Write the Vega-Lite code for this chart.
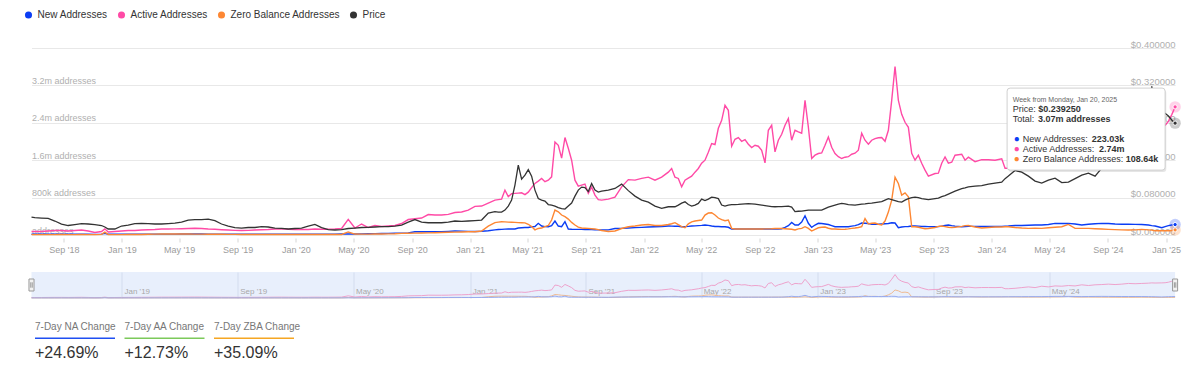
{
"$schema": "https://vega.github.io/schema/vega-lite/v6.json",
"padding": {"left": 23.5, "top": 10, "right": 0, "bottom": 0},
"background": "white",
"config": {"font": "Liberation Sans", "view": {"stroke": null}},
"datasets": {
"ts": [
{"d":"2018-06-25","p":0.0384,"a":75,"n":15,"z":8},
{"d":"2018-07-02","p":0.0373,"a":75,"n":15,"z":8},
{"d":"2018-07-16","p":0.0363,"a":75,"n":16,"z":9},
{"d":"2018-07-30","p":0.0356,"a":85,"n":16,"z":9},
{"d":"2018-08-13","p":0.0299,"a":96,"n":17,"z":9},
{"d":"2018-08-27","p":0.0235,"a":96,"n":17,"z":10},
{"d":"2018-09-10","p":0.0203,"a":85,"n":16,"z":9},
{"d":"2018-09-24","p":0.0224,"a":96,"n":17,"z":9},
{"d":"2018-10-08","p":0.0245,"a":107,"n":17,"z":10},
{"d":"2018-10-22","p":0.0235,"a":85,"n":16,"z":9},
{"d":"2018-11-05","p":0.0224,"a":53,"n":14,"z":8},
{"d":"2018-11-19","p":0.0203,"a":75,"n":18,"z":14},
{"d":"2018-11-26","p":0.0171,"a":132,"n":35,"z":60},
{"d":"2018-12-03","p":0.0128,"a":64,"n":16,"z":12},
{"d":"2018-12-17","p":0.0128,"a":75,"n":15,"z":9},
{"d":"2018-12-31","p":0.0192,"a":85,"n":16,"z":9},
{"d":"2019-01-14","p":0.0213,"a":96,"n":17,"z":10},
{"d":"2019-01-28","p":0.0245,"a":96,"n":17,"z":10},
{"d":"2019-02-11","p":0.0250,"a":107,"n":18,"z":12},
{"d":"2019-02-25","p":0.0245,"a":113,"n":18,"z":16},
{"d":"2019-03-11","p":0.0235,"a":117,"n":18,"z":18},
{"d":"2019-03-25","p":0.0235,"a":128,"n":19,"z":20},
{"d":"2019-04-08","p":0.0245,"a":128,"n":19,"z":22},
{"d":"2019-04-22","p":0.0256,"a":132,"n":19,"z":22},
{"d":"2019-05-06","p":0.0277,"a":134,"n":20,"z":21},
{"d":"2019-05-20","p":0.0320,"a":139,"n":20,"z":20},
{"d":"2019-06-03","p":0.0331,"a":143,"n":20,"z":19},
{"d":"2019-06-17","p":0.0331,"a":139,"n":20,"z":18},
{"d":"2019-07-01","p":0.0341,"a":128,"n":19,"z":17},
{"d":"2019-07-15","p":0.0309,"a":122,"n":19,"z":16},
{"d":"2019-07-29","p":0.0235,"a":113,"n":18,"z":15},
{"d":"2019-08-12","p":0.0192,"a":107,"n":18,"z":14},
{"d":"2019-08-26","p":0.0156,"a":100,"n":17,"z":13},
{"d":"2019-09-09","p":0.0149,"a":96,"n":17,"z":12},
{"d":"2019-09-23","p":0.0160,"a":100,"n":17,"z":12},
{"d":"2019-10-07","p":0.0160,"a":107,"n":17,"z":12},
{"d":"2019-10-21","p":0.0177,"a":113,"n":18,"z":12},
{"d":"2019-11-04","p":0.0171,"a":117,"n":18,"z":12},
{"d":"2019-11-18","p":0.0149,"a":128,"n":18,"z":12},
{"d":"2019-12-02","p":0.0143,"a":132,"n":18,"z":11},
{"d":"2019-12-16","p":0.0128,"a":122,"n":17,"z":11},
{"d":"2019-12-30","p":0.0139,"a":117,"n":17,"z":11},
{"d":"2020-01-13","p":0.0149,"a":117,"n":16,"z":10},
{"d":"2020-01-27","p":0.0192,"a":117,"n":17,"z":10},
{"d":"2020-02-10","p":0.0228,"a":128,"n":17,"z":10},
{"d":"2020-02-24","p":0.0160,"a":122,"n":17,"z":10},
{"d":"2020-03-09","p":0.0117,"a":122,"n":18,"z":10},
{"d":"2020-03-23","p":0.0107,"a":128,"n":19,"z":10},
{"d":"2020-04-06","p":0.0117,"a":139,"n":20,"z":12},
{"d":"2020-04-20","p":0.0139,"a":335,"n":24,"z":65},
{"d":"2020-05-04","p":0.0149,"a":149,"n":22,"z":20},
{"d":"2020-05-18","p":0.0160,"a":235,"n":25,"z":18},
{"d":"2020-06-01","p":0.0164,"a":160,"n":28,"z":18},
{"d":"2020-06-15","p":0.0171,"a":203,"n":30,"z":20},
{"d":"2020-06-29","p":0.0177,"a":181,"n":32,"z":22},
{"d":"2020-07-13","p":0.0181,"a":192,"n":34,"z":25},
{"d":"2020-07-27","p":0.0192,"a":203,"n":36,"z":28},
{"d":"2020-08-10","p":0.0213,"a":245,"n":38,"z":35},
{"d":"2020-08-24","p":0.0277,"a":331,"n":45,"z":38},
{"d":"2020-09-07","p":0.0331,"a":348,"n":70,"z":40},
{"d":"2020-09-21","p":0.0277,"a":363,"n":70,"z":42},
{"d":"2020-10-05","p":0.0262,"a":437,"n":70,"z":45},
{"d":"2020-10-19","p":0.0262,"a":427,"n":70,"z":48},
{"d":"2020-11-02","p":0.0262,"a":427,"n":72,"z":53},
{"d":"2020-11-16","p":0.0277,"a":442,"n":78,"z":58},
{"d":"2020-11-30","p":0.0299,"a":480,"n":85,"z":62},
{"d":"2020-12-14","p":0.0292,"a":491,"n":82,"z":65},
{"d":"2020-12-28","p":0.0299,"a":533,"n":78,"z":68},
{"d":"2021-01-11","p":0.0309,"a":612,"n":75,"z":70},
{"d":"2021-01-25","p":0.0320,"a":619,"n":80,"z":85},
{"d":"2021-02-08","p":0.0469,"a":683,"n":92,"z":190},
{"d":"2021-02-22","p":0.0501,"a":747,"n":110,"z":265},
{"d":"2021-03-01","p":0.0491,"a":757,"n":118,"z":275},
{"d":"2021-03-08","p":0.0491,"a":768,"n":121,"z":283},
{"d":"2021-03-15","p":0.0533,"a":960,"n":125,"z":280},
{"d":"2021-03-22","p":0.0619,"a":821,"n":128,"z":275},
{"d":"2021-03-29","p":0.0747,"a":885,"n":130,"z":272},
{"d":"2021-04-05","p":0.1067,"a":890,"n":128,"z":270},
{"d":"2021-04-12","p":0.1493,"a":896,"n":150,"z":265},
{"d":"2021-04-19","p":0.1195,"a":902,"n":155,"z":262},
{"d":"2021-04-26","p":0.1280,"a":864,"n":160,"z":260},
{"d":"2021-05-03","p":0.1397,"a":917,"n":160,"z":230},
{"d":"2021-05-10","p":0.1259,"a":1013,"n":175,"z":180},
{"d":"2021-05-17","p":0.0960,"a":1103,"n":180,"z":110},
{"d":"2021-05-24","p":0.0779,"a":1152,"n":250,"z":140},
{"d":"2021-05-31","p":0.0747,"a":1210,"n":192,"z":149},
{"d":"2021-06-07","p":0.0725,"a":1141,"n":180,"z":180},
{"d":"2021-06-14","p":0.0651,"a":1173,"n":177,"z":203},
{"d":"2021-06-21","p":0.0640,"a":1244,"n":200,"z":320},
{"d":"2021-06-28","p":0.0619,"a":1990,"n":299,"z":533},
{"d":"2021-07-05","p":0.0587,"a":1920,"n":192,"z":497},
{"d":"2021-07-12","p":0.0565,"a":1643,"n":177,"z":427},
{"d":"2021-07-19","p":0.0555,"a":2084,"n":284,"z":391},
{"d":"2021-07-26","p":0.0619,"a":1856,"n":128,"z":341},
{"d":"2021-08-02","p":0.0683,"a":1600,"n":122,"z":270},
{"d":"2021-08-09","p":0.0832,"a":1173,"n":120,"z":213},
{"d":"2021-08-16","p":0.0960,"a":1045,"n":120,"z":170},
{"d":"2021-08-23","p":0.1024,"a":1067,"n":120,"z":149},
{"d":"2021-08-30","p":0.1013,"a":1088,"n":118,"z":145},
{"d":"2021-09-06","p":0.0928,"a":890,"n":117,"z":142},
{"d":"2021-09-13","p":0.1099,"a":1024,"n":115,"z":135},
{"d":"2021-09-20","p":0.0960,"a":853,"n":112,"z":128},
{"d":"2021-09-27","p":0.0917,"a":757,"n":110,"z":115},
{"d":"2021-10-04","p":0.0939,"a":747,"n":107,"z":96},
{"d":"2021-10-18","p":0.0960,"a":768,"n":110,"z":75},
{"d":"2021-11-01","p":0.0996,"a":811,"n":139,"z":85},
{"d":"2021-11-15","p":0.1088,"a":1030,"n":142,"z":139},
{"d":"2021-11-29","p":0.0949,"a":1184,"n":149,"z":177},
{"d":"2021-12-13","p":0.0832,"a":1173,"n":158,"z":192},
{"d":"2021-12-27","p":0.0747,"a":1210,"n":164,"z":213},
{"d":"2022-01-10","p":0.0704,"a":1237,"n":170,"z":224},
{"d":"2022-01-24","p":0.0619,"a":1173,"n":177,"z":203},
{"d":"2022-02-07","p":0.0570,"a":1237,"n":182,"z":203},
{"d":"2022-02-21","p":0.0604,"a":1344,"n":192,"z":224},
{"d":"2022-02-28","p":0.0604,"a":1423,"n":190,"z":240},
{"d":"2022-03-07","p":0.0604,"a":1237,"n":188,"z":263},
{"d":"2022-03-14","p":0.0640,"a":1210,"n":186,"z":220},
{"d":"2022-03-21","p":0.0683,"a":1030,"n":177,"z":181},
{"d":"2022-03-28","p":0.0710,"a":1173,"n":180,"z":155},
{"d":"2022-04-04","p":0.0651,"a":1216,"n":185,"z":240},
{"d":"2022-04-11","p":0.0619,"a":1259,"n":192,"z":282},
{"d":"2022-04-18","p":0.0640,"a":1344,"n":195,"z":300},
{"d":"2022-04-25","p":0.0676,"a":1423,"n":200,"z":310},
{"d":"2022-05-02","p":0.0768,"a":1536,"n":205,"z":320},
{"d":"2022-05-09","p":0.0736,"a":1600,"n":213,"z":427},
{"d":"2022-05-16","p":0.0768,"a":1771,"n":205,"z":470},
{"d":"2022-05-23","p":0.0811,"a":1956,"n":192,"z":476},
{"d":"2022-05-30","p":0.0800,"a":1935,"n":181,"z":427},
{"d":"2022-06-06","p":0.0779,"a":2283,"n":181,"z":363},
{"d":"2022-06-13","p":0.0640,"a":2453,"n":177,"z":330},
{"d":"2022-06-20","p":0.0619,"a":2773,"n":177,"z":305},
{"d":"2022-06-27","p":0.0640,"a":2667,"n":165,"z":320},
{"d":"2022-07-04","p":0.0651,"a":1899,"n":128,"z":142},
{"d":"2022-07-11","p":0.0651,"a":2048,"n":128,"z":128},
{"d":"2022-07-18","p":0.0655,"a":2084,"n":128,"z":128},
{"d":"2022-07-25","p":0.0661,"a":2005,"n":128,"z":128},
{"d":"2022-08-01","p":0.0667,"a":2042,"n":128,"z":128},
{"d":"2022-08-08","p":0.0672,"a":1941,"n":128,"z":128},
{"d":"2022-08-15","p":0.0667,"a":1871,"n":128,"z":128},
{"d":"2022-08-22","p":0.0661,"a":1920,"n":128,"z":128},
{"d":"2022-08-29","p":0.0651,"a":1899,"n":128,"z":128},
{"d":"2022-09-05","p":0.0640,"a":1813,"n":128,"z":128},
{"d":"2022-09-12","p":0.0629,"a":1542,"n":128,"z":130},
{"d":"2022-09-19","p":0.0619,"a":2240,"n":128,"z":130},
{"d":"2022-09-26","p":0.0608,"a":2347,"n":128,"z":133},
{"d":"2022-10-03","p":0.0604,"a":1777,"n":128,"z":139},
{"d":"2022-10-10","p":0.0606,"a":2027,"n":128,"z":142},
{"d":"2022-10-17","p":0.0608,"a":2155,"n":135,"z":139},
{"d":"2022-10-24","p":0.0614,"a":2347,"n":164,"z":135},
{"d":"2022-10-31","p":0.0619,"a":2490,"n":200,"z":128},
{"d":"2022-11-07","p":0.0597,"a":2027,"n":270,"z":122},
{"d":"2022-11-14","p":0.0501,"a":2240,"n":213,"z":107},
{"d":"2022-11-21","p":0.0508,"a":2204,"n":213,"z":130},
{"d":"2022-11-28","p":0.0512,"a":2176,"n":277,"z":142},
{"d":"2022-12-05","p":0.0523,"a":2880,"n":412,"z":177},
{"d":"2022-12-12","p":0.0533,"a":2310,"n":250,"z":140},
{"d":"2022-12-19","p":0.0533,"a":1636,"n":164,"z":85},
{"d":"2022-12-26","p":0.0533,"a":1707,"n":213,"z":120},
{"d":"2023-01-02","p":0.0533,"a":1743,"n":250,"z":155},
{"d":"2023-01-09","p":0.0533,"a":1756,"n":245,"z":165},
{"d":"2023-01-16","p":0.0565,"a":1920,"n":235,"z":170},
{"d":"2023-01-23","p":0.0597,"a":2097,"n":224,"z":145},
{"d":"2023-01-30","p":0.0619,"a":1877,"n":200,"z":128},
{"d":"2023-02-06","p":0.0640,"a":1743,"n":177,"z":128},
{"d":"2023-02-13","p":0.0661,"a":1675,"n":177,"z":124},
{"d":"2023-02-20","p":0.0676,"a":1636,"n":177,"z":121},
{"d":"2023-02-27","p":0.0666,"a":1664,"n":177,"z":124},
{"d":"2023-03-06","p":0.0651,"a":1675,"n":177,"z":132},
{"d":"2023-03-13","p":0.0646,"a":1728,"n":190,"z":142},
{"d":"2023-03-20","p":0.0640,"a":1749,"n":200,"z":150},
{"d":"2023-03-27","p":0.0651,"a":1813,"n":220,"z":160},
{"d":"2023-04-03","p":0.0661,"a":2176,"n":256,"z":177},
{"d":"2023-04-10","p":0.0667,"a":2027,"n":250,"z":352},
{"d":"2023-04-17","p":0.0676,"a":1941,"n":245,"z":235},
{"d":"2023-04-24","p":0.0683,"a":2027,"n":230,"z":250},
{"d":"2023-05-01","p":0.0693,"a":2063,"n":227,"z":256},
{"d":"2023-05-08","p":0.0704,"a":2080,"n":230,"z":230},
{"d":"2023-05-15","p":0.0715,"a":2084,"n":235,"z":213},
{"d":"2023-05-22","p":0.0747,"a":2005,"n":240,"z":299},
{"d":"2023-05-29","p":0.0779,"a":2240,"n":245,"z":490},
{"d":"2023-06-05","p":0.0757,"a":2880,"n":262,"z":747},
{"d":"2023-06-12","p":0.0736,"a":3605,"n":256,"z":1237},
{"d":"2023-06-19","p":0.0715,"a":2880,"n":155,"z":1102},
{"d":"2023-06-26","p":0.0704,"a":2581,"n":170,"z":853},
{"d":"2023-07-03","p":0.0747,"a":2411,"n":180,"z":902},
{"d":"2023-07-10","p":0.0779,"a":2304,"n":181,"z":818},
{"d":"2023-07-17","p":0.0800,"a":1749,"n":192,"z":177},
{"d":"2023-07-24","p":0.0811,"a":1600,"n":192,"z":177},
{"d":"2023-07-31","p":0.0800,"a":1707,"n":190,"z":165},
{"d":"2023-08-07","p":0.0779,"a":1536,"n":185,"z":150},
{"d":"2023-08-14","p":0.0768,"a":1387,"n":182,"z":135},
{"d":"2023-08-21","p":0.0757,"a":1259,"n":180,"z":139},
{"d":"2023-09-04","p":0.0779,"a":1316,"n":177,"z":160},
{"d":"2023-09-11","p":0.0789,"a":1323,"n":180,"z":185},
{"d":"2023-09-18","p":0.0821,"a":1536,"n":190,"z":192},
{"d":"2023-09-25","p":0.0843,"a":1670,"n":205,"z":180},
{"d":"2023-10-02","p":0.0875,"a":1536,"n":213,"z":165},
{"d":"2023-10-09","p":0.0907,"a":1557,"n":200,"z":160},
{"d":"2023-10-16","p":0.0939,"a":1707,"n":190,"z":165},
{"d":"2023-10-30","p":0.0992,"a":1728,"n":177,"z":185},
{"d":"2023-11-06","p":0.1009,"a":1600,"n":180,"z":200},
{"d":"2023-11-13","p":0.1030,"a":1664,"n":185,"z":203},
{"d":"2023-11-27","p":0.1045,"a":1568,"n":185,"z":170},
{"d":"2023-12-11","p":0.1056,"a":1611,"n":181,"z":149},
{"d":"2023-12-25","p":0.1088,"a":1611,"n":181,"z":160},
{"d":"2024-01-08","p":0.1109,"a":1600,"n":181,"z":170},
{"d":"2024-01-22","p":0.1131,"a":1632,"n":185,"z":170},
{"d":"2024-01-29","p":0.1205,"a":1429,"n":190,"z":175},
{"d":"2024-02-05","p":0.1260,"a":1429,"n":192,"z":177},
{"d":"2024-02-19","p":0.1380,"a":1493,"n":203,"z":160},
{"d":"2024-03-04","p":0.1344,"a":1600,"n":203,"z":149},
{"d":"2024-03-18","p":0.1259,"a":1707,"n":210,"z":142},
{"d":"2024-04-01","p":0.1152,"a":1600,"n":213,"z":145},
{"d":"2024-04-15","p":0.1109,"a":1813,"n":213,"z":142},
{"d":"2024-04-29","p":0.1173,"a":1707,"n":225,"z":155},
{"d":"2024-05-13","p":0.1216,"a":1856,"n":249,"z":165},
{"d":"2024-05-27","p":0.1120,"a":1813,"n":245,"z":177},
{"d":"2024-06-10","p":0.1131,"a":1920,"n":249,"z":226},
{"d":"2024-06-24","p":0.1205,"a":1856,"n":235,"z":142},
{"d":"2024-07-08","p":0.1280,"a":2027,"n":213,"z":142},
{"d":"2024-07-22","p":0.1323,"a":1920,"n":230,"z":142},
{"d":"2024-08-05","p":0.1259,"a":2027,"n":240,"z":135},
{"d":"2024-08-19","p":0.1429,"a":2069,"n":249,"z":128},
{"d":"2024-09-02","p":0.1536,"a":2133,"n":245,"z":121},
{"d":"2024-09-16","p":0.1557,"a":2069,"n":235,"z":115},
{"d":"2024-09-30","p":0.1600,"a":2133,"n":230,"z":110},
{"d":"2024-10-14","p":0.1643,"a":2240,"n":230,"z":107},
{"d":"2024-10-28","p":0.1600,"a":2197,"n":228,"z":110},
{"d":"2024-11-11","p":0.1813,"a":2240,"n":225,"z":121},
{"d":"2024-11-25","p":0.2453,"a":2283,"n":213,"z":110},
{"d":"2024-12-02","p":0.3179,"a":2325,"n":200,"z":105},
{"d":"2024-12-09","p":0.2880,"a":2304,"n":192,"z":92},
{"d":"2024-12-23","p":0.2624,"a":2325,"n":155,"z":92},
{"d":"2024-12-30","p":0.2603,"a":2347,"n":180,"z":92},
{"d":"2025-01-06","p":0.2545,"a":2430,"n":200,"z":92},
{"d":"2025-01-13","p":0.2460,"a":2575,"n":213,"z":95},
{"d":"2025-01-20","p":0.23925,"a":2740,"n":223.03,"z":108.64}
],
"stats": [
{"k":"7-Day NA Change","v":"+24.69%","c":"na"},
{"k":"7-Day AA Change","v":"+12.73%","c":"aa"},
{"k":"7-Day ZBA Change","v":"+35.09%","c":"zba"}
]
},
"spacing": 37,
"bounds": "flush",
"vconcat": [
{
"width": 1143.6,
"height": 187,
"data": {"name": "ts"},
"encoding": {
"x": {"field": "d", "type": "temporal",
"scale": {"type": "utc", "domain": [{"year": 2018, "month": 6, "date": 25, "utc": true}, {"year": 2025, "month": 1, "date": 20, "utc": true}]},
"axis": {"title": null, "tickCount": {"interval": "month", "step": 4}, "format": "%b '%y", "grid": false, "domain": false, "ticks": true, "tickSize": 4, "tickColor": "#d6d6d6", "offset": 3, "labelPadding": 3, "labelFontSize": 9, "labelColor": "#9c9c9c"}}
},
"layer": [
{
"layer": [
{
"transform": [{"fold": ["n", "a", "z"], "as": ["s", "v"]}],
"mark": {"type": "line", "strokeWidth": 1.4},
"encoding": {
"y": {"field": "v", "type": "quantitative", "scale": {"domain": [0, 4000], "nice": false},
"axis": {"title": null, "orient": "left", "values": [0, 800, 1600, 2400, 3200, 4000], "tickCount": 12,
"labelExpr": "datum.value == 0 ? 'addresses' : datum.value >= 4000 ? '' : datum.value >= 1000 ? format(datum.value / 1000, '.1f') + 'm addresses' : datum.value + 'k addresses'",
"labelAlign": "left", "labelBaseline": "alphabetic", "labelPadding": 0, "labelOverlap": false, "ticks": false, "tickSize": 0, "domain": false, "grid": true, "gridColor": "#e8e8e8", "labelFontSize": 9, "labelColor": "#b0b0b0", "labelOffset": -2}},
"color": {"field": "s", "type": "nominal",
"scale": {"domain": ["n", "a", "z", "p"], "range": ["#0b3df4", "#ff4aa6", "#fd8733", "#333333"]},
"legend": {"orient": "none", "legendX": -8, "legendY": -38, "direction": "horizontal", "title": null,
"symbolType": "circle", "symbolSize": 50, "symbolStrokeWidth": 0,
"labelFontSize": 10, "labelColor": "#333333", "columnPadding": 8, "labelOffset": 4, "padding": 0,
"labelExpr": "datum.label == 'n' ? 'New Addresses' : datum.label == 'a' ? 'Active Addresses' : datum.label == 'z' ? 'Zero Balance Addresses' : 'Price'",
"encode": {"symbols": {"update": {"fill": {"signal": "datum.value == 'n' ? '#0b3df4' : datum.value == 'a' ? '#ff4aa6' : datum.value == 'z' ? '#fd8733' : '#333333'"}, "opacity": {"value": 1}}}}}}
}
},
{
"transform": [{"filter": {"field": "d", "equal": {"year": 2025, "month": 1, "date": 20, "utc": true}}}, {"fold": ["n", "a", "z"], "as": ["s", "v"]}],
"encoding": {"y": {"field": "v", "type": "quantitative"}, "color": {"field": "s", "type": "nominal"}},
"layer": [
{"mark": {"type": "point", "filled": true, "size": 130, "opacity": 0.25}},
{"mark": {"type": "point", "filled": true, "size": 18, "opacity": 1, "stroke": "white", "strokeWidth": 1}}
]
}
]
},
{
"layer": [
{
"mark": {"type": "line", "strokeWidth": 1.3},
"encoding": {
"y": {"field": "p", "type": "quantitative", "scale": {"domain": [0, 0.4], "nice": false},
"axis": {"title": null, "orient": "right", "values": [0, 0.08, 0.16, 0.24, 0.32, 0.4], "tickCount": 12, "format": "$.6f", "labelAlign": "right", "labelBaseline": "alphabetic", "labelPadding": 0, "labelOverlap": false, "ticks": false, "tickSize": 0, "domain": false, "grid": false, "labelFontSize": 9.5, "labelColor": "#b0b0b0", "labelOffset": -1}},
"color": {"datum": "p"}
}
},
{
"transform": [{"filter": {"field": "d", "equal": {"year": 2025, "month": 1, "date": 20, "utc": true}}}],
"encoding": {"y": {"field": "p", "type": "quantitative"}, "color": {"datum": "p"}},
"layer": [
{"mark": {"type": "point", "filled": true, "size": 130, "opacity": 0.25}},
{"mark": {"type": "point", "filled": true, "size": 18, "opacity": 1, "stroke": "white", "strokeWidth": 1}}
]
}
]
},
{
"transform": [{"filter": {"field": "d", "equal": {"year": 2025, "month": 1, "date": 20, "utc": true}}}],
"encoding": {"y": {"field": "a", "type": "quantitative", "scale": {"domain": [0, 4000], "nice": false}, "axis": null}},
"layer": [
{"mark": {"type": "point", "shape": "M-4.095,-0.42 L-0.295,-0.42 Q-0.22,-0.42 -0.22,-0.345 L-0.22,1.555 Q-0.22,1.63 -0.295,1.63 L-4.095,1.63 Q-4.17,1.63 -4.17,1.555 L-4.17,-0.345 Q-4.17,-0.42 -4.095,-0.42 Z", "size": 6400, "filled": true, "fill": "#000000", "opacity": 0.1, "strokeWidth": 0}},
{"mark": {"type": "point", "shape": "M-4.125,-0.47 L-0.325,-0.47 Q-0.25,-0.47 -0.25,-0.395 L-0.25,1.505 Q-0.25,1.58 -0.325,1.58 L-4.125,1.58 Q-4.2,1.58 -4.2,1.505 L-4.2,-0.395 Q-4.2,-0.47 -4.125,-0.47 Z", "size": 6400, "filled": true, "fill": "#ffffff", "stroke": "#d0d0d0", "strokeWidth": 1, "opacity": 1}},
{"mark": {"type": "text", "align": "left", "baseline": "middle", "dx": -162.4, "dy": -6.9, "fontSize": 7, "color": "#666666"}, "encoding": {"text": {"value": "Week from Monday, Jan 20, 2025"}}},
{"mark": {"type": "text", "align": "left", "baseline": "middle", "dx": -162.4, "dy": 2.1, "fontSize": 9, "color": "#333333"}, "encoding": {"text": {"value": "Price:"}}},
{"mark": {"type": "text", "align": "left", "baseline": "middle", "dx": -136.8, "dy": 2.1, "fontSize": 9, "fontWeight": "bold", "color": "#333333"}, "encoding": {"text": {"field": "p", "type": "quantitative", "format": "$.6f"}}},
{"mark": {"type": "text", "align": "left", "baseline": "middle", "dx": -162.4, "dy": 12.1, "fontSize": 9, "color": "#333333"}, "encoding": {"text": {"value": "Total:"}}},
{"mark": {"type": "text", "align": "left", "baseline": "middle", "dx": -137.2, "dy": 12.1, "fontSize": 9, "fontWeight": "bold", "color": "#333333"}, "encoding": {"text": {"value": "3.07m addresses"}}},
{"mark": {"type": "text", "align": "center", "baseline": "middle", "dx": -158.4, "dy": 32.1, "fontSize": 10, "color": "#0b3df4"}, "encoding": {"text": {"value": "●"}}},
{"mark": {"type": "text", "align": "center", "baseline": "middle", "dx": -158.4, "dy": 42.1, "fontSize": 10, "color": "#ff4aa6"}, "encoding": {"text": {"value": "●"}}},
{"mark": {"type": "text", "align": "center", "baseline": "middle", "dx": -158.4, "dy": 52.1, "fontSize": 10, "color": "#fd8733"}, "encoding": {"text": {"value": "●"}}},
{"mark": {"type": "text", "align": "left", "baseline": "middle", "dx": -152.4, "dy": 32.1, "fontSize": 9, "color": "#333333"}, "encoding": {"text": {"value": "New Addresses:"}}},
{"mark": {"type": "text", "align": "left", "baseline": "middle", "dx": -152.4, "dy": 42.1, "fontSize": 9, "color": "#333333"}, "encoding": {"text": {"value": "Active Addresses:"}}},
{"mark": {"type": "text", "align": "left", "baseline": "middle", "dx": -152.4, "dy": 52.1, "fontSize": 9, "color": "#333333"}, "encoding": {"text": {"value": "Zero Balance Addresses:"}}},
{"mark": {"type": "text", "align": "left", "baseline": "middle", "dx": -83.4, "dy": 32.1, "fontSize": 9, "fontWeight": "bold", "color": "#333333"}, "encoding": {"text": {"value": "223.03k"}}},
{"mark": {"type": "text", "align": "left", "baseline": "middle", "dx": -76.1, "dy": 42.1, "fontSize": 9, "fontWeight": "bold", "color": "#333333"}, "encoding": {"text": {"value": "2.74m"}}},
{"mark": {"type": "text", "align": "left", "baseline": "middle", "dx": -49.4, "dy": 52.1, "fontSize": 9, "fontWeight": "bold", "color": "#333333"}, "encoding": {"text": {"value": "108.64k"}}}
]
}
],
"resolve": {"scale": {"y": "independent"}}
},
{
"width": 1143.6,
"height": 26,
"view": {"fill": "#e8effc", "stroke": null},
"data": {"name": "ts"},
"encoding": {
"x": {"field": "d", "type": "temporal",
"scale": {"type": "utc", "domain": [{"year": 2018, "month": 6, "date": 25, "utc": true}, {"year": 2025, "month": 1, "date": 20, "utc": true}]},
"axis": {"title": null, "values": [{"year": 2019, "month": 1, "date": 1, "utc": true}, {"year": 2019, "month": 9, "date": 1, "utc": true}, {"year": 2020, "month": 5, "date": 1, "utc": true}, {"year": 2021, "month": 1, "date": 1, "utc": true}, {"year": 2021, "month": 9, "date": 1, "utc": true}, {"year": 2022, "month": 5, "date": 1, "utc": true}, {"year": 2023, "month": 1, "date": 1, "utc": true}, {"year": 2023, "month": 9, "date": 1, "utc": true}, {"year": 2024, "month": 5, "date": 1, "utc": true}], "tickCount": 20,
"format": "%b '%y", "labelAlign": "left", "labelBaseline": "bottom", "labelPadding": -3, "labelOffset": 2, "labelOverlap": false, "ticks": false, "tickSize": 0, "domain": false, "grid": true, "gridColor": "#d3dcee", "labelFontSize": 8, "labelColor": "#a8a8a8"}}
},
"layer": [
{"mark": {"type": "line", "color": "#eea2cc", "strokeWidth": 1}, "encoding": {"y": {"field": "a", "type": "quantitative", "scale": {"domain": [0, 4000], "nice": false}, "axis": null}}},
{"mark": {"type": "line", "color": "#efbb93", "strokeWidth": 1}, "encoding": {"y": {"field": "z", "type": "quantitative", "axis": null}}},
{"mark": {"type": "line", "color": "#97abf0", "strokeWidth": 1}, "encoding": {"y": {"field": "n", "type": "quantitative", "axis": null}}},
{"transform": [{"filter": {"or": [{"field": "d", "equal": {"year": 2018, "month": 6, "date": 25, "utc": true}}, {"field": "d", "equal": {"year": 2025, "month": 1, "date": 20, "utc": true}}]}}],
"mark": {"type": "point", "shape": "M-0.42,-1 L0.42,-1 L0.42,1 L-0.42,1 Z M-0.12,-0.45 L-0.12,0.45 M0.12,-0.45 L0.12,0.45", "size": 144, "filled": true, "fill": "#f2f2f2", "stroke": "#999999", "strokeWidth": 1, "opacity": 1}}
]
},
{
"width": 266,
"height": 25,
"data": {"name": "stats"},
"layer": [
{"mark": {"type": "text", "align": "left", "baseline": "middle", "fontSize": 10, "color": "#777777", "dy": -20.5},
"encoding": {"x": {"field": "k", "type": "nominal", "sort": null, "bandPosition": 0, "scale": {"paddingInner": 0.106, "paddingOuter": 0.039}, "axis": null}, "text": {"field": "k"}}},
{"mark": {"type": "text", "align": "left", "baseline": "middle", "fontSize": 16, "color": "#333333", "dy": 5.2},
"encoding": {"x": {"field": "k", "type": "nominal", "sort": null, "bandPosition": 0, "scale": {"paddingInner": 0.106, "paddingOuter": 0.039}, "axis": null}, "text": {"field": "v"}}},
{"transform": [{"filter": "datum.c == 'na'"}], "mark": {"type": "tick", "orient": "horizontal", "color": "#1f4ff2", "thickness": 1.5, "size": 80, "yOffset": -9.2, "opacity": 1},
"encoding": {"x": {"field": "k", "type": "nominal", "sort": null, "scale": {"paddingInner": 0.106, "paddingOuter": 0.039}, "axis": null}}},
{"transform": [{"filter": "datum.c == 'aa'"}], "mark": {"type": "tick", "orient": "horizontal", "color": "#7cc95a", "thickness": 1.5, "size": 80, "yOffset": -9.2, "opacity": 1},
"encoding": {"x": {"field": "k", "type": "nominal", "sort": null, "scale": {"paddingInner": 0.106, "paddingOuter": 0.039}, "axis": null}}},
{"transform": [{"filter": "datum.c == 'zba'"}], "mark": {"type": "tick", "orient": "horizontal", "color": "#f5a623", "thickness": 1.5, "size": 80, "yOffset": -9.2, "opacity": 1},
"encoding": {"x": {"field": "k", "type": "nominal", "sort": null, "scale": {"paddingInner": 0.106, "paddingOuter": 0.039}, "axis": null}}}
]
}
]
}
